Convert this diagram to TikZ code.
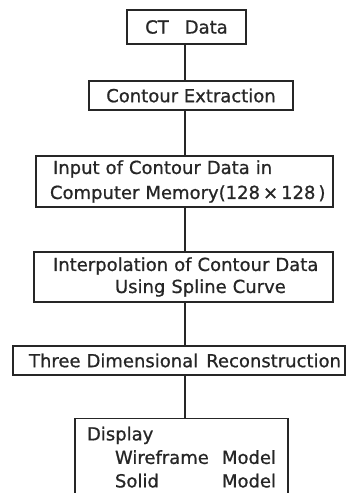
\documentclass[tikz,border=0pt]{standalone}
\usepackage{fontspec}
\setmainfont{DejaVu Sans}[FakeBold=0.8]
\definecolor{ink}{HTML}{262626}
\begin{document}
\begin{tikzpicture}[x=1pt,y=-1pt,
  box/.style={draw=ink, line width=1.4pt, text=ink, inner sep=0pt,
    font=\fontsize{18}{22}\selectfont},
  link/.style={draw=ink, line width=1.4pt}]
\useasboundingbox (0,0) rectangle (348,493);
\clip (0,0) rectangle (348,493);
\fill[white] (0,0) rectangle (348,493);
\coordinate (spine) at (185,0);

\node[box, minimum width=119pt, minimum height=34pt] (ct) at (186.5,27)
  {CT\hspace{16pt}Data};
\node[box, minimum width=204pt, minimum height=29pt] (ce) at (191,95.5)
  {Contour Extraction};
\node[box, minimum width=297pt, minimum height=51pt, text width=297pt,
  align=left, font=\fontsize{18}{25}\selectfont] (in) at (184.5,181.5)
  {\hspace*{17pt}Input of Contour Data in\\
   \hspace*{14pt}Computer Memory(128\,×\,128\,)};
\node[box, minimum width=299pt, minimum height=50pt, text width=299pt,
  align=left, font=\fontsize{18}{22}\selectfont] (ip) at (183.5,277)
  {\hspace*{19pt}Interpolation of Contour Data\\
   \hspace*{81pt}Using Spline Curve};
\node[box, minimum width=332pt, minimum height=29pt, text width=332pt,
  align=left] (tdr) at (179,360.5)
  {\hspace*{16pt}Three Dimensional\hspace{8pt}Reconstruction};
\node[box, anchor=north, text width=213pt, align=left, inner ysep=8pt,
  font=\fontsize{18}{23.5}\selectfont] (disp) at (181.5,418)
  {\hspace*{12pt}Display\\
   \hspace*{40pt}\makebox[107pt][l]{Wireframe}Model\\
   \hspace*{40pt}\makebox[107pt][l]{Solid}Model\rule[-40pt]{0pt}{40pt}};

\draw[link] (ct.south -| spine) -- (ce.north -| spine);
\draw[link] (ce.south -| spine) -- (in.north -| spine);
\draw[link] (in.south -| spine) -- (ip.north -| spine);
\draw[link] (ip.south -| spine) -- (tdr.north -| spine);
\draw[link] (tdr.south -| spine) -- (disp.north -| spine);
\end{tikzpicture}
\end{document}
